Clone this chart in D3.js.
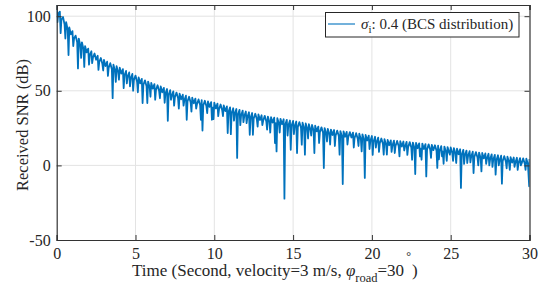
<!DOCTYPE html>
<html><head><meta charset="utf-8">
<script src="https://cdn.jsdelivr.net/npm/d3@7"></script>
<style>body{margin:0;background:#fff}svg{display:block}text{font-family:"Liberation Serif","Times New Roman",serif;fill:#262626}</style>
</head><body><svg id="c" width="549" height="288"></svg>
<script>
// Sampling interval of the base trace (seconds) and read values of the trace (dB)
const sampleStep = 0.1;
const baseSnr = [
107.5,101.8,103,97.8,99.5,94.3,96,90.8,92.5,87.8,
90,85,87,82.5,85,80.3,82.5,77.8,80,75.7,
78.3,73.9,76.5,72.3,75,70.8,73.5,69.3,72,67.9,
70.7,66.6,69.5,65.5,68.5,64.5,67.5,63.5,66.5,62.5,
65.5,61.5,64.5,60.4,63.3,59.3,62.3,58.3,61.3,57.3,
60.2,56.1,59,55,58,54,57,53.1,56.2,52.3,
55.3,51.4,54.5,50.6,53.7,49.8,52.9,49,52,48.1,
51.2,47.3,50.4,46.5,49.6,45.7,48.8,45,48.1,44.3,
47.4,43.6,46.7,42.9,46,42.2,45.4,41.6,44.8,41,
44.2,40.5,43.8,40.1,43.3,39.6,42.9,39.2,42.4,38.7,
42,38.2,41.4,37.6,40.8,37,40.2,36.4,39.5,35.7,
38.9,35.1,38.3,34.6,37.8,34,37.2,33.5,36.7,32.9,
36.1,32.4,35.6,31.9,35.1,31.4,34.6,30.9,34.1,30.4,
33.6,29.9,33.2,29.5,32.7,29,32.3,28.7,32,28.3,
31.6,27.9,31.2,27.6,30.9,27.2,30.5,26.8,30.1,26.5,
29.8,26.1,29.4,25.7,29,25.3,28.6,24.9,28.1,24.4,
27.6,23.9,27.1,23.4,26.6,22.8,26,22.3,25.5,21.8,
25,21.3,24.5,20.8,24,20.4,23.7,20,23.3,19.7,
23,19.4,22.8,19.2,22.5,18.9,22.3,18.7,22,18.3,
21.6,17.9,21.2,17.5,20.8,17.1,20.4,16.7,20,16.4,
19.7,15.9,19.2,15.4,18.6,14.8,18,14.3,17.6,13.9,
17.1,13.5,16.8,13.2,16.6,13,16.4,12.8,16.2,12.6,
16,12.4,15.8,12.2,15.6,12,15.3,11.7,15.1,11.5,
14.8,11.2,14.6,11,14.3,10.7,14.1,10.5,13.8,10.2,
13.5,9.9,13.2,9.6,12.9,9.3,12.6,9,12.3,8.7,
12,8.3,11.6,7.9,11.2,7.5,10.8,7.1,10.4,6.7,
9.9,6.2,9.5,5.9,9.2,5.6,8.9,5.3,8.6,5,
8.3,4.7,8,4.4,7.8,4.1,7.4,3.8,7.1,3.5,
6.8,3.2,6.5,2.9,6.2,2.5,5.8,2.2,5.5,1.9,
5.3,1.7,5.1,1.5,4.9,1.3,4.7,1.1,4.5,0.9,
4.3];
// Fading dips: time (s) and SNR (dB)
const dipTime = [0.05,0.25,0.55,0.75,1.05,1.35,1.55,1.75,2.05,2.25,2.65,2.95,3.25,3.55,3.75,3.95,4.25,4.45,4.65,4.85,
5.15,5.45,5.75,5.95,6.25,6.55,6.85,7.05,7.25,7.45,7.75,8.05,8.25,8.55,8.85,9.15,9.25,9.55,9.85,9.95,
10.25,10.55,10.85,11.05,11.25,11.45,11.65,11.85,12.05,12.25,12.45,12.75,13.05,13.35,13.55,13.85,13.95,14.15,14.45,14.65,
14.85,15.05,15.25,15.55,15.75,15.95,16.15,16.35,16.65,16.95,17.15,17.35,17.65,17.95,18.15,18.45,18.85,19.15,19.35,19.55,
19.85,20.05,20.25,20.45,20.75,20.95,21.25,21.45,21.75,22.05,22.25,22.55,22.75,23.05,23.15,23.45,23.75,24.15,24.25,24.45,
24.55,24.75,24.95,25.15,25.35,25.65,25.85,26.05,26.25,26.45,26.75,26.95,27.25,27.45,27.65,27.85,28.05,28.25,28.55,28.75,
29.05,29.25,29.45,29.75,29.98];
const dipSnr = [96,88.6,85,74,80,65,72,66,67.5,68.5,64,63.6,60,45.1,56,57.4,51.8,55,53,50,
49,41.8,41.8,46,44,45,42,29.9,44,40,38,40,30.6,36,38,30.6,23.4,35,30.6,31,
33,33,21.7,20.9,30,5.0,27,29,28.3,20.5,20.5,26,27,24,22,15,9.4,22,-22.3,20,
10.5,21,8.3,13.9,7.2,18,20,8.3,15,-1.8,16,14,13,7.2,-12.5,14,12,13,9.4,-8.4,
11,7,12,9,7.2,7.2,9,8.3,6,10,7,3.8,-5.8,6,3.8,-7.4,5,-1.7,4,6,
1.1,3,7.2,3,1.6,-15.1,1,1.6,2,-5.1,0,-4,1,0,-1,-6.2,0,-12.2,-2,-3,
-1,-3,0,-3,-14];
const xTicks = [0,5,10,15,20,25,30];
const yTicks = [-50,0,50,100];
const legendLabel = "0.4 (BCS distribution)";

const svg = d3.select("#c");
const m = {l:56.7, r:529.5, t:5, b:240};
const x = d3.scaleLinear().domain([0,30]).range([m.l,m.r]);
const y = d3.scaleLinear().domain([-50,107.5]).range([m.b,m.t]);

const pts = baseSnr.map((v,i)=>({t:+(i*sampleStep).toFixed(2), v}))
  .concat(dipTime.map((t,i)=>({t, v:dipSnr[i]})))
  .sort((a,b)=>a.t-b.t);

// grid
const g = svg.append("g");
g.selectAll("line.gx").data(xTicks.slice(1,-1)).join("line")
  .attr("x1",d=>x(d)).attr("x2",d=>x(d)).attr("y1",m.t).attr("y2",m.b)
  .attr("stroke","#e3e3e3").attr("stroke-width",1);
g.selectAll("line.gy").data(yTicks.slice(1)).join("line")
  .attr("x1",m.l).attr("x2",m.r).attr("y1",d=>y(d)).attr("y2",d=>y(d))
  .attr("stroke","#e3e3e3").attr("stroke-width",1);

svg.append("clipPath").attr("id","clip").append("rect")
  .attr("x",m.l).attr("y",m.t).attr("width",m.r-m.l).attr("height",m.b-m.t);

svg.append("path").datum(pts)
  .attr("clip-path","url(#clip)")
  .attr("fill","none").attr("stroke","#0072BD").attr("stroke-width",1.8)
  .attr("stroke-linejoin","round")
  .attr("d", d3.line().x(d=>x(d.t)).y(d=>y(d.v)));

// axes (ticks inward on all sides)
const tl = 5;
const fmt = d => String(d);
const axB = svg.append("g").attr("transform",`translate(0,${m.b})`)
  .call(d3.axisBottom(x).tickValues(xTicks).tickSize(-tl).tickPadding(8).tickFormat(fmt));
const axT = svg.append("g").attr("transform",`translate(0,${m.t})`)
  .call(d3.axisTop(x).tickValues(xTicks).tickSize(-tl).tickFormat(""));
const axL = svg.append("g").attr("transform",`translate(${m.l},0)`)
  .call(d3.axisLeft(y).tickValues(yTicks).tickSize(-tl).tickPadding(6).tickFormat(fmt));
const axR = svg.append("g").attr("transform",`translate(${m.r},0)`)
  .call(d3.axisRight(y).tickValues(yTicks).tickSize(-tl).tickFormat(""));
[axB,axT,axL,axR].forEach(a=>{
  a.select(".domain").attr("stroke","#333").attr("stroke-width",1.2);
  a.selectAll(".tick line").attr("stroke","#333");
  a.selectAll("text").attr("font-family","Liberation Serif").attr("font-size",16).attr("fill","#262626");
});

// axis labels
svg.append("text").attr("transform","translate(28,125) rotate(-90)")
  .attr("text-anchor","middle").attr("font-size",16.5).text("Received SNR (dB)");
const xl = svg.append("text").attr("x",132).attr("y",276).attr("font-size",17);
xl.append("tspan").text("Time (Second, velocity=3 m/s, ");
xl.append("tspan").attr("font-style","italic").text("φ");
xl.append("tspan").attr("font-size",12.5).attr("dy",6).text("road");
xl.append("tspan").attr("dy",-6).text("=30");
xl.append("tspan").attr("font-size",12).attr("dx",2).attr("dy",-16).text("°");
xl.append("tspan").attr("dx",1).attr("dy",16).text(")");

// legend
const lg = svg.append("g");
lg.append("rect").attr("x",325.5).attr("y",12.5).attr("width",193.5).attr("height",24.5)
  .attr("fill","#fff").attr("stroke","#262626").attr("stroke-width",1);
lg.append("line").attr("x1",328).attr("x2",355).attr("y1",24).attr("y2",24)
  .attr("stroke","#0072BD").attr("stroke-width",1.1);
const lt = lg.append("text").attr("x",361).attr("y",29).attr("font-size",15);
lt.append("tspan").attr("font-style","italic").text("σ");
lt.append("tspan").attr("font-size",11).attr("dy",4).text("i");
lt.append("tspan").attr("dy",-4).text(": " + legendLabel);
</script></body></html>
